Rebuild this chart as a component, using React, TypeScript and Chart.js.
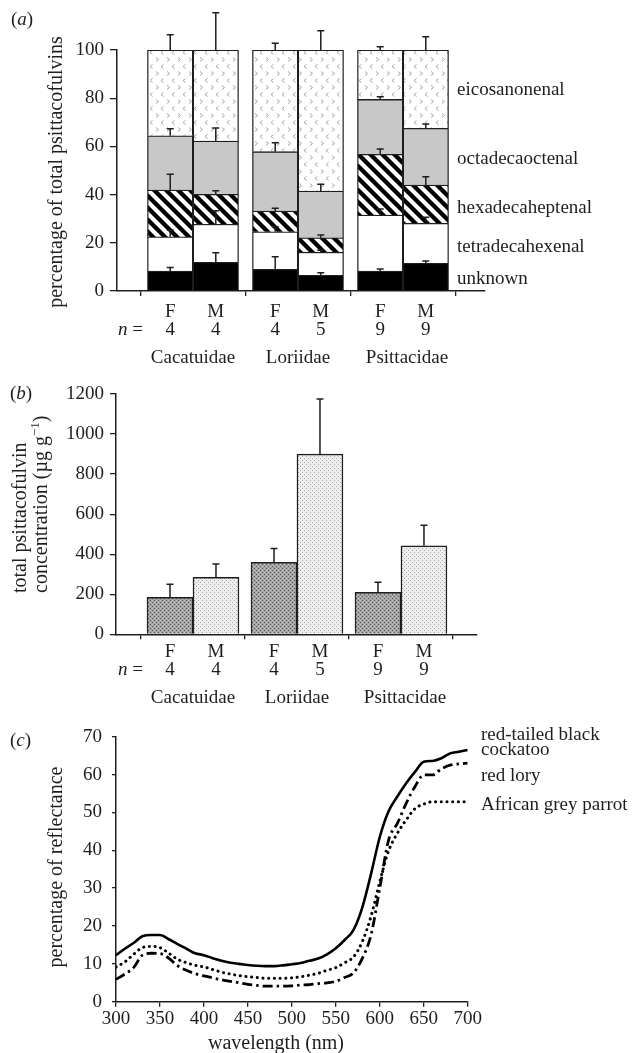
import React, { useEffect, useRef } from 'react';
import { Chart, registerables } from 'chart.js';

Chart.register(...registerables);

const FONT = "'Liberation Serif', 'Times New Roman', Times, serif";
const INK = '#1e1e1e';

// ---------------- data: panel (a) ----------------
const families = ['Cacatuidae', 'Loriidae', 'Psittacidae'];
const sexLabels = ['F', 'M', 'F', 'M', 'F', 'M'];
const sampleSizes = ['4', '4', '4', '5', '9', '9'];
const componentNames = ['unknown', 'tetradecahexenal', 'hexadecaheptenal', 'octadecaoctenal', 'eicosanonenal'];
// order of bars: Cacatuidae F, M, Loriidae F, M, Psittacidae F, M
const unknownPct = [8.3, 11.9, 9.0, 6.5, 8.3, 11.5];
const tetradecahexenalPct = [14.2, 15.8, 15.6, 9.6, 23.2, 16.6];
const hexadecaheptenalPct = [19.4, 12.4, 8.6, 6.0, 25.2, 15.9];
const octadecaoctenalPct = [22.5, 22.1, 24.6, 19.4, 22.8, 23.5];
const eicosanonenalPct = [35.6, 37.8, 42.2, 58.5, 20.5, 32.5];
const unknownSE = [1.4, 4.0, 5.2, 1.1, 0.8, 0.9];
const tetradecahexenalSE = [2.8, 5.6, 2.1, 0.8, 2.5, 2.5];
const hexadecaheptenalSE = [6.5, 1.5, 1.1, 1.1, 2.2, 3.4];
const octadecaoctenalSE = [2.9, 5.4, 3.7, 2.8, 1.1, 1.8];
const eicosanonenalSE = [6.3, 15.5, 2.8, 8.0, 1.4, 5.5];
const pctTickLabels = [0, 20, 40, 60, 80, 100];

// ---------------- data: panel (b) ----------------
const totalConcentration = [185, 285, 360, 900, 210, 442];
const totalConcentrationSE = [65, 66, 69, 275, 50, 103];
const concTickLabels = [0, 200, 400, 600, 800, 1000, 1200];

// ---------------- data: panel (c) ----------------
const wavelengthNm = [300, 310, 320, 330, 340, 350, 360, 370, 380, 390, 400, 410, 420, 430, 440, 450, 460, 470, 480, 490, 500,
  510, 520, 530, 540, 550, 560, 570, 580, 590, 600, 610, 620, 630, 640, 650, 660, 670, 680, 690, 700];
const redTailedBlackCockatoo = [12.3, 14.0, 15.5, 17.3, 17.6, 17.6, 16.5, 15.2, 14.0, 12.8, 12.3,
  11.5, 10.8, 10.3, 10.0, 9.7, 9.5, 9.4, 9.4, 9.6, 9.9,
  10.2, 10.8, 11.4, 12.5, 14.1, 16.3, 18.9, 24.8, 33.7, 43.5,
  50.3, 54.2, 57.7, 60.7, 63.4, 63.6, 64.3, 65.6, 66.0, 66.5];
const redLory = [5.9, 7.3, 9.0, 12.3, 12.8, 12.7, 11.5, 9.5, 8.3, 7.4, 6.8,
  6.3, 5.8, 5.4, 5.0, 4.6, 4.3, 4.1, 4.1, 4.1, 4.2,
  4.4, 4.5, 4.8, 5.0, 5.4, 6.4, 7.6, 11.4, 17.6, 30.0,
  42.7, 47.1, 52.4, 56.8, 59.9, 59.9, 61.5, 62.5, 62.8, 63.0];
const africanGreyParrot = [9.2, 10.5, 12.5, 14.3, 14.6, 14.3, 12.8, 11.2, 10.3, 9.6, 9.2,
  8.5, 7.8, 7.3, 6.9, 6.6, 6.4, 6.2, 6.2, 6.2, 6.3,
  6.6, 7.0, 7.5, 8.3, 9.0, 10.3, 11.8, 15.8, 22.5, 31.7,
  39.8, 44.5, 48.0, 51.0, 52.2, 52.8, 52.8, 52.8, 52.8, 52.8];
const speciesNames = ['red-tailed black cockatoo', 'red lory', 'African grey parrot'];

// ---------------- helpers ----------------
type Run = { t: string; italic?: boolean; size?: number; dy?: number };

function drawRuns(ctx: CanvasRenderingContext2D, runs: Run[], x: number, y: number, align: 'left' | 'center' | 'right', base = 19) {
  ctx.save();
  ctx.fillStyle = INK;
  ctx.textBaseline = 'alphabetic';
  ctx.textAlign = 'left';
  const fontOf = (r: Run) => `${r.italic ? 'italic ' : ''}${r.size ?? base}px ${FONT}`;
  let total = 0;
  const widths = runs.map((r) => {
    ctx.font = fontOf(r);
    const w = ctx.measureText(r.t).width;
    total += w;
    return w;
  });
  let cx = align === 'left' ? x : align === 'center' ? x - total / 2 : x - total;
  runs.forEach((r, i) => {
    ctx.font = fontOf(r);
    ctx.fillText(r.t, cx, y + (r.dy ?? 0));
    cx += widths[i];
  });
  ctx.restore();
}

function drawRotated(ctx: CanvasRenderingContext2D, runs: Run[], x: number, y: number, align: 'left' | 'center' | 'right', base = 19) {
  ctx.save();
  ctx.translate(x, y);
  ctx.rotate(-Math.PI / 2);
  drawRuns(ctx, runs, 0, 0, align, base);
  ctx.restore();
}

type Area = { L: number; R: number; T: number; B: number; W: number; H: number };
function fitArea(a: Area) {
  return {
    padding: { left: 0, right: a.W - a.R, top: a.T, bottom: 0 },
    y: (s: any) => { s.width = a.L; s.paddingTop = 0; s.paddingBottom = 0; },
    x: (s: any) => { s.height = a.H - a.B; s.paddingLeft = 0; s.paddingRight = 0; },
  };
}

function makePattern(w: number, h: number, draw: (g: CanvasRenderingContext2D) => void) {
  const c = document.createElement('canvas');
  c.width = w;
  c.height = h;
  const g = c.getContext('2d')!;
  draw(g);
  return g.createPattern(c, 'repeat')!;
}

function barX(i: number, off: number) {
  return Math.floor(i / 2) + 1 + (i % 2 === 0 ? -off : off);
}

function axisStyle(tickLength: number) {
  return {
    grid: { drawOnChartArea: false, tickLength, color: INK, tickColor: INK, lineWidth: 1.3 },
    border: { color: INK, width: 1.5 },
  };
}

function drawErrorBar(ctx: CanvasRenderingContext2D, x: number, yTop: number, yErr: number) {
  ctx.save();
  ctx.strokeStyle = INK;
  ctx.lineWidth = 1.5;
  ctx.beginPath();
  ctx.moveTo(x, yTop);
  ctx.lineTo(x, yErr);
  ctx.moveTo(x - 3.5, yErr);
  ctx.lineTo(x + 3.5, yErr);
  ctx.stroke();
  ctx.restore();
}

function drawGroupLabels(ctx: CanvasRenderingContext2D, chart: any, off: number, rows: number[]) {
  const xs = chart.scales.x;
  const bottom = chart.chartArea.bottom;
  sexLabels.forEach((s, i) => {
    const px = xs.getPixelForValue(barX(i, off));
    drawRuns(ctx, [{ t: s }], px, bottom + rows[0], 'center');
    drawRuns(ctx, [{ t: sampleSizes[i] }], px, bottom + rows[1], 'center');
  });
  drawRuns(ctx, [{ t: 'n', italic: true }, { t: ' =' }], 143, bottom + rows[1], 'right');
  families.forEach((f, g) => {
    drawRuns(ctx, [{ t: f }], xs.getPixelForValue(g + 1) + (g === 2 ? 4 : 0), bottom + rows[2], 'center');
  });
}

// ---------------- chart configs ----------------
function makeCompositionChart(): any {
  const area: Area = { L: 117, R: 485, T: 50, B: 291, W: 640, H: 370 };
  const fit = fitArea(area);
  const off = 0.217;
  const series = [unknownPct, tetradecahexenalPct, hexadecaheptenalPct, octadecaoctenalPct, eicosanonenalPct];
  const errors = [unknownSE, tetradecahexenalSE, hexadecaheptenalSE, octadecaoctenalSE, eicosanonenalSE];
  const chevrons = makePattern(11, 14, (g) => {
    g.fillStyle = '#ffffff';
    g.fillRect(0, 0, 11, 14);
    g.strokeStyle = '#9a9a9a';
    g.lineWidth = 0.9;
    g.beginPath();
    g.moveTo(2, 1.5); g.lineTo(4.5, 3.5); g.lineTo(2, 5.5);
    g.moveTo(9.5, 8.5); g.lineTo(7, 10.5); g.lineTo(9.5, 12.5);
    g.stroke();
  });
  const stripes = makePattern(12, 12, (g) => {
    g.fillStyle = '#ffffff';
    g.fillRect(0, 0, 12, 12);
    g.strokeStyle = '#000000';
    g.lineWidth = 4.3;
    g.beginPath();
    for (const k of [-12, 0, 12]) { g.moveTo(k - 2, -2); g.lineTo(k + 14, 14); }
    g.stroke();
  });
  const fills: any[] = ['#000000', '#ffffff', stripes, '#c8c8c8', chevrons];
  const labelBaselines = [284, 252.3, 213.3, 163.7, 95.3];

  return {
    type: 'bar',
    data: {
      datasets: componentNames.map((name, d) => ({
        label: name,
        data: series[d].map((v, i) => ({ x: barX(i, off), y: v })),
        backgroundColor: fills[d],
        borderColor: INK,
        borderWidth: 1.3,
        barThickness: 45.5,
        stack: 'all',
      })),
    },
    options: {
      responsive: false,
      animation: false,
      devicePixelRatio: 1,
      layout: { padding: fit.padding },
      plugins: { legend: { display: false }, tooltip: { enabled: false } },
      scales: {
        x: {
          type: 'linear', min: 0.2762, max: 3.781, stacked: true, offset: false,
          afterFit: fit.x,
          afterBuildTicks: (s: any) => { s.ticks = [1, 2, 3].map((v) => ({ value: v })); },
          ticks: { display: false },
          ...axisStyle(5),
        },
        y: {
          min: 0, max: 100, stacked: true,
          afterFit: fit.y,
          ticks: {
            stepSize: 10, padding: 6, color: INK, font: { family: FONT, size: 19 },
            callback: (v: number) => (pctTickLabels.includes(v) ? String(v) : ''),
          },
          ...axisStyle(7),
        },
      },
    },
    plugins: [{
      id: 'decoA',
      afterDatasetsDraw: (chart: any) => {
        const ctx = chart.ctx;
        const ys = chart.scales.y;
        for (let d = 0; d < series.length; d++) {
          const meta = chart.getDatasetMeta(d);
          meta.data.forEach((el: any, i: number) => {
            let cum = 0;
            for (let k = 0; k <= d; k++) cum += series[k][i];
            drawErrorBar(ctx, el.x, el.y, ys.getPixelForValue(cum + errors[d][i]));
          });
        }
      },
      afterDraw: (chart: any) => {
        const ctx = chart.ctx;
        drawRuns(ctx, [{ t: '(' }, { t: 'a', italic: true }, { t: ')' }], 11, 24.5, 'left');
        drawRotated(ctx, [{ t: 'percentage of total psittacofulvins' }], 62, 172, 'center', 20);
        drawGroupLabels(ctx, chart, off, [26, 44.3, 72.3]);
        componentNames.forEach((n, d) => drawRuns(ctx, [{ t: n }], 457, labelBaselines[d], 'left'));
      },
    }],
  };
}

function makeConcentrationChart(): any {
  const area: Area = { L: 116, R: 477, T: 24, B: 264.3, W: 640, H: 345 };
  const fit = fitArea(area);
  const off = 0.221;
  const female = makePattern(4, 4, (g) => {
    g.fillStyle = '#a4a4a4';
    g.fillRect(0, 0, 4, 4);
    g.fillStyle = '#555555';
    g.fillRect(0, 0, 1, 1);
    g.fillRect(2, 2, 1, 1);
    g.fillStyle = '#c8c8c8';
    g.fillRect(2, 0, 1, 1);
    g.fillRect(0, 2, 1, 1);
  });
  const male = makePattern(4, 4, (g) => {
    g.fillStyle = '#eeeeee';
    g.fillRect(0, 0, 4, 4);
    g.fillStyle = '#a8a8a8';
    g.fillRect(0, 0, 1, 1);
    g.fillRect(2, 2, 1, 1);
  });
  return {
    type: 'bar',
    data: {
      datasets: [{
        label: 'total psittacofulvin concentration',
        data: totalConcentration.map((v, i) => ({ x: barX(i, off), y: v })),
        backgroundColor: totalConcentration.map((_, i) => (i % 2 === 0 ? female : male)),
        borderColor: INK,
        borderWidth: 1.5,
        barThickness: 46,
      }],
    },
    options: {
      responsive: false,
      animation: false,
      devicePixelRatio: 1,
      layout: { padding: fit.padding },
      plugins: { legend: { display: false }, tooltip: { enabled: false } },
      scales: {
        x: {
          type: 'linear', min: 0.2596, max: 3.731, offset: false,
          afterFit: fit.x,
          afterBuildTicks: (s: any) => { s.ticks = [1, 2, 3].map((v) => ({ value: v })); },
          ticks: { display: false },
          ...axisStyle(5),
        },
        y: {
          min: 0, max: 1200,
          afterFit: fit.y,
          ticks: {
            stepSize: 100, padding: 6, color: INK, font: { family: FONT, size: 19 },
            callback: (v: number) => (concTickLabels.includes(v) ? String(v) : ''),
          },
          ...axisStyle(6),
        },
      },
    },
    plugins: [{
      id: 'decoB',
      afterDatasetsDraw: (chart: any) => {
        const ctx = chart.ctx;
        const ys = chart.scales.y;
        chart.getDatasetMeta(0).data.forEach((el: any, i: number) => {
          drawErrorBar(ctx, el.x, el.y, ys.getPixelForValue(totalConcentration[i] + totalConcentrationSE[i]));
        });
      },
      afterDraw: (chart: any) => {
        const ctx = chart.ctx;
        drawRuns(ctx, [{ t: '(' }, { t: 'b', italic: true }, { t: ')' }], 10, 28.5, 'left');
        drawRotated(ctx, [{ t: 'total psittacofulvin' }], 26, 223, 'left', 20);
        drawRotated(ctx, [{ t: 'concentration (\u00b5g g' }, { t: '\u22121', size: 13, dy: -8 }, { t: ')' }], 47, 223, 'left', 20);
        drawGroupLabels(ctx, chart, off, [22.7, 41, 68.4]);
      },
    }],
  };
}

function makeReflectanceChart(): any {
  const area: Area = { L: 116, R: 467.7, T: 21.7, B: 286.7, W: 640, H: 338 };
  const fit = fitArea(area);
  const series = [redTailedBlackCockatoo, redLory, africanGreyParrot];
  const dashes = [[], [10, 4, 2.5, 4], [0.1, 5.6]];
  const widths = [2.6, 2.8, 3];
  return {
    type: 'line',
    data: {
      datasets: speciesNames.map((name, s) => ({
        label: name,
        data: wavelengthNm.map((w, i) => ({ x: w, y: series[s][i] })),
        borderColor: '#000000',
        borderWidth: widths[s],
        borderDash: dashes[s],
        borderCapStyle: s === 2 ? 'round' : 'butt',
        pointRadius: 0,
        cubicInterpolationMode: 'monotone',
        fill: false,
      })),
    },
    options: {
      responsive: false,
      animation: false,
      devicePixelRatio: 1,
      layout: { padding: fit.padding },
      plugins: { legend: { display: false }, tooltip: { enabled: false } },
      scales: {
        x: {
          type: 'linear', min: 300, max: 700,
          afterFit: fit.x,
          ticks: { stepSize: 50, padding: 1, color: INK, font: { family: FONT, size: 19 }, maxRotation: 0 },
          ...axisStyle(5),
        },
        y: {
          min: 0, max: 70,
          afterFit: fit.y,
          ticks: { stepSize: 10, padding: 10, color: INK, font: { family: FONT, size: 19 } },
          ...axisStyle(4),
        },
      },
    },
    plugins: [{
      id: 'decoC',
      afterDraw: (chart: any) => {
        const ctx = chart.ctx;
        drawRuns(ctx, [{ t: '(' }, { t: 'c', italic: true }, { t: ')' }], 10, 31, 'left');
        drawRotated(ctx, [{ t: 'percentage of reflectance' }], 62, 152, 'center', 20);
        drawRuns(ctx, [{ t: 'wavelength (nm)' }], 276, 334, 'center', 20);
        drawRuns(ctx, [{ t: 'red-tailed black' }], 481, 25, 'left');
        drawRuns(ctx, [{ t: 'cockatoo' }], 481, 40, 'left');
        drawRuns(ctx, [{ t: 'red lory' }], 481, 66, 'left');
        drawRuns(ctx, [{ t: 'African grey parrot' }], 481, 95, 'left');
      },
    }],
  };
}

function ChartBox({ top, height, make }: { top: number; height: number; make: () => any }) {
  const ref = useRef<HTMLCanvasElement>(null);
  useEffect(() => {
    const chart = new Chart(ref.current!, make());
    return () => chart.destroy();
  }, []);
  return (
    <div style={{ position: 'absolute', left: 0, top, width: 640, height }}>
      <canvas ref={ref} width={640} height={height} style={{ display: 'block', width: 640, height }} />
    </div>
  );
}

export default function App() {
  return (
    <div style={{ position: 'absolute', left: 0, top: 0, width: 640, height: 1053, background: '#ffffff', overflow: 'hidden' }}>
      <ChartBox top={0} height={370} make={makeCompositionChart} />
      <ChartBox top={370} height={345} make={makeConcentrationChart} />
      <ChartBox top={715} height={338} make={makeReflectanceChart} />
    </div>
  );
}
